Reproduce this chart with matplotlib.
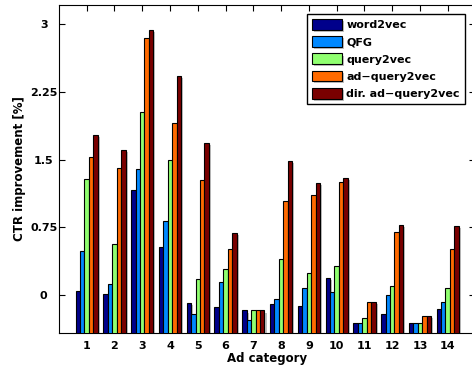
import matplotlib
matplotlib.use("Agg")
import matplotlib.pyplot as plt
import matplotlib.patheffects as pe
import numpy as np

# CTR improvement [%] per ad category
categories = [str(i) for i in range(1, 15)]
word2vec = [0.05, 0.01, 1.16, 0.53, -0.09, -0.13, -0.17, -0.10, -0.12, 0.19, -0.31, -0.21, -0.31, -0.15]
qfg = [0.49, 0.125, 1.39, 0.82, -0.21, 0.14, -0.28, -0.045, 0.08, 0.03, -0.31, 0.0, -0.31, -0.08]
query2vec = [1.29, 0.56, 2.03, 1.49, 0.18, 0.285, -0.17, 0.40, 0.24, 0.325, -0.25, 0.095, -0.31, 0.08]
ad_query2vec = [1.53, 1.41, 2.85, 1.90, 1.27, 0.51, -0.17, 1.045, 1.11, 1.25, -0.08, 0.70, -0.235, 0.51]
dir_ad_query2vec = [1.77, 1.61, 2.93, 2.43, 1.685, 0.69, -0.17, 1.48, 1.24, 1.30, -0.08, 0.775, -0.235, 0.765]

series = [word2vec, qfg, query2vec, ad_query2vec, dir_ad_query2vec]
labels = ['word2vec', 'QFG', 'query2vec', 'ad\u2212query2vec', 'dir. ad\u2212query2vec']
colors = ['#00008b', '#0088ff', '#90ff70', '#ff6a00', '#7a0000']
yticks = [0, 0.75, 1.5, 2.25, 3]
ytick_labels = ['0', '0.75', '1.5', '2.25', '3']

plt.rcParams['font.family'] = 'DejaVu Sans'
plt.rcParams['font.weight'] = 'bold'

fig = plt.figure(figsize=(4.72, 3.67), dpi=100)
ax = fig.add_axes([0.1248, 0.0926, 0.8826, 0.8937])

ymin, ymax = -0.42, 3.21
base = ymin - 0.1
ind = np.arange(1, len(categories) + 1)
width = 0.16
shadow = [pe.SimplePatchShadow(offset=(1.5, -1.5), shadow_rgbFace='gray', alpha=0.5), pe.Normal()]

for i, (vals, lab, col) in enumerate(zip(series, labels, colors)):
    x = ind + (i - 2) * width
    ax.bar(x, np.array(vals) - base, width, bottom=base, color=col, edgecolor='black',
           linewidth=0.8, label=lab, path_effects=shadow, zorder=3)

ax.set_xlim(0, 15)
ax.set_ylim(ymin, ymax)
ax.set_xticks(ind)
ax.set_xticklabels(categories)
ax.set_yticks(yticks)
ax.set_yticklabels(ytick_labels, ha='center')
ax.tick_params(direction='in', length=4, top=True, right=True, labelsize=8)
ax.tick_params(axis='y', pad=11)
ax.tick_params(axis='x', pad=5.5)
ax.set_xlabel('Ad category', fontsize=8.5, fontweight='bold', labelpad=1)
ax.set_ylabel('CTR improvement [%]', fontsize=8.5, fontweight='bold', labelpad=3)

leg = ax.legend(loc='upper right', fontsize=8, fancybox=False, framealpha=1,
                edgecolor='black', handlelength=2.7, handleheight=1.1,
                labelspacing=0.55, handletextpad=0.42, borderpad=0.45,
                borderaxespad=0, bbox_to_anchor=(0.9748, 0.9726))
leg.get_frame().set_linewidth(1.0)
for t in leg.get_texts():
    t.set_fontweight('bold')

fig.savefig('out.png', dpi=100)
